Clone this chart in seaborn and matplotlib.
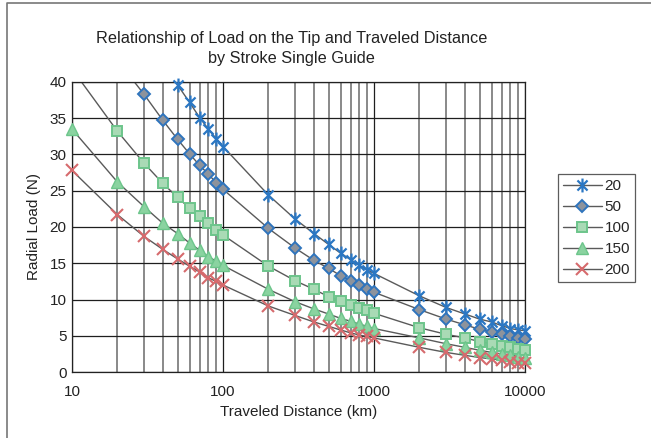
import numpy as np
import pandas as pd
import matplotlib
matplotlib.use("Agg")
import matplotlib.pyplot as plt
import seaborn as sns
from matplotlib.path import Path
from matplotlib.lines import Line2D
from matplotlib.ticker import FixedLocator, NullFormatter, LogLocator

# --- Data ---
distance = [10, 20, 30, 40, 50, 60, 70, 80, 90,
            100, 200, 300, 400, 500, 600, 700, 800, 900,
            1000, 2000, 3000, 4000, 5000, 6000, 7000, 8000, 9000, 10000]

load_20 = [67.0, 53.3, 47.5, 43.0, 39.6, 37.2, 35.1, 33.5, 32.2,
           31.1, 24.4, 21.1, 19.1, 17.6, 16.4, 15.5, 14.7, 14.1,
           13.6, 10.5, 8.9, 8.0, 7.3, 6.9, 6.4, 6.0, 5.8, 5.7]
load_50 = [54.0, 43.0, 38.3, 34.7, 32.1, 30.1, 28.5, 27.3, 26.1,
           25.2, 19.8, 17.1, 15.4, 14.3, 13.3, 12.6, 12.0, 11.5,
           11.0, 8.6, 7.3, 6.5, 5.9, 5.5, 5.2, 4.9, 4.7, 4.6]
load_100 = [41.8, 33.2, 28.8, 26.0, 24.1, 22.6, 21.5, 20.5, 19.6,
            18.9, 14.6, 12.6, 11.4, 10.4, 9.8, 9.2, 8.8, 8.5,
            8.1, 6.1, 5.2, 4.7, 4.2, 3.9, 3.6, 3.4, 3.2, 3.0]
load_150 = [33.5, 26.2, 22.8, 20.5, 19.1, 17.8, 16.8, 15.9, 15.3,
            14.7, 11.4, 9.7, 8.7, 8.0, 7.4, 7.0, 6.6, 6.3,
            6.0, 4.7, 3.9, 3.4, 3.0, 2.7, 2.5, 2.4, 2.1, 1.9]
load_200 = [27.8, 21.7, 18.7, 16.9, 15.6, 14.6, 13.8, 13.0, 12.5,
            12.0, 9.1, 7.8, 6.9, 6.3, 5.8, 5.4, 5.1, 4.9,
            4.7, 3.4, 2.7, 2.3, 2.0, 1.8, 1.7, 1.4, 1.3, 1.2]

strokes = ["20", "50", "100", "150", "200"]
loads = [load_20, load_50, load_100, load_150, load_200]
x_tick_labels = ["10", "100", "1000", "10000"]

# --- Style ---
sns.set_theme(style="white")
plt.rcParams['font.family'] = ['Liberation Sans', 'DejaVu Sans']
plt.rcParams['font.size'] = 11

# Excel-style star: an "x" with a vertical bar through it
star = Path([(-0.8, -0.8), (0.8, 0.8), (-0.8, 0.8), (0.8, -0.8), (0, -1.1), (0, 1.1)],
            [Path.MOVETO, Path.LINETO, Path.MOVETO, Path.LINETO, Path.MOVETO, Path.LINETO])

styles = {
    "20": dict(marker=star, markersize=10, markerfacecolor='none',
               markeredgecolor='#2b77c3', markeredgewidth=1.6),
    "50": dict(marker='D', markersize=6, markerfacecolor='#8d939c',
               markeredgecolor='#2f74bd', markeredgewidth=1.4),
    "100": dict(marker='s', markersize=7.5, markerfacecolor='#a9dab5',
                markeredgecolor='#6dc58b', markeredgewidth=1.4),
    "150": dict(marker='^', markersize=8, markerfacecolor='#8ad3a0',
                markeredgecolor='#6dc58b', markeredgewidth=1.0),
    "200": dict(marker='x', markersize=8, markerfacecolor='none',
                markeredgecolor='#d66a6d', markeredgewidth=1.5),
}
line_color = '#5a5a5a'

fig = plt.figure(figsize=(6.51, 4.38), dpi=100)
ax = fig.add_axes([72 / 651, 1 - 372 / 438, (525 - 72) / 651, (372 - 82) / 438])

handles = []
for name, vals in zip(strokes, loads):
    df = pd.DataFrame({'distance': distance, 'load': vals})
    # connecting line, clipped at the top of the plot
    sns.lineplot(data=df, x='distance', y='load', ax=ax, color=line_color,
                 linewidth=1.0, legend=False)
    # markers for visible points, not clipped at the edges
    vis = df[df['load'] <= 40]
    sns.lineplot(data=vis, x='distance', y='load', ax=ax, linestyle='',
                 legend=False, clip_on=False, zorder=3, **styles[name])
    handles.append(Line2D([], [], color=line_color, linewidth=1.0, label=name,
                          **styles[name]))

ax.set_xscale('log')
ax.set_xlim(10, 10000)
ax.set_ylim(0, 40)
ax.set_yticks(range(0, 41, 5))
ax.xaxis.set_major_locator(FixedLocator([10, 100, 1000, 10000]))
ax.set_xticklabels(x_tick_labels)
ax.xaxis.set_minor_locator(LogLocator(base=10, subs=np.arange(2, 10)))
ax.xaxis.set_minor_formatter(NullFormatter())
ax.tick_params(axis='both', which='both', length=0, labelsize=11, colors='#222222')
ax.tick_params(axis='x', pad=9)
ax.tick_params(axis='y', pad=4)

ax.grid(True, which='major', axis='both', color='#1e1e1e', linewidth=0.9)
ax.grid(True, which='minor', axis='x', color='#6a6a6a', linewidth=1.1)
for s in ax.spines.values():
    s.set_color('#222222')
    s.set_linewidth(0.9)

ax.set_xlabel('Traveled Distance (km)', fontsize=11, color='#222222', labelpad=5)
ax.set_ylabel('Radial Load (N)', fontsize=11, color='#222222', labelpad=6)
ax.set_title('Relationship of Load on the Tip and Traveled Distance\nby Stroke Single Guide',
             fontsize=11.7, color='#222222', pad=14, x=0.485, linespacing=1.4)

leg = ax.legend(handles=handles, loc='upper left',
                bbox_to_anchor=(558 / 651, 1 - 174 / 438),
                bbox_transform=fig.transFigure, frameon=True, fancybox=False,
                fontsize=11, handlelength=2.5, handletextpad=0.2,
                borderpad=0.35, labelspacing=0.45, borderaxespad=0)
leg.get_frame().set_edgecolor('#333333')
leg.get_frame().set_linewidth(0.9)

# outer frame, cropped on right/bottom like the reference
fig.add_artist(Line2D([7 / 651, 7 / 651, 1.0], [0.0, 1 - 3 / 438, 1 - 3 / 438],
                      transform=fig.transFigure, color='#777777', linewidth=1.2))

plt.savefig('out.png', dpi=100)
plt.close()
